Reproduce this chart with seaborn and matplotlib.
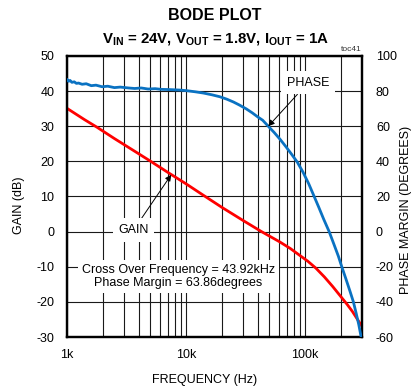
import numpy as np
import pandas as pd
import matplotlib
matplotlib.use("Agg")
import matplotlib.pyplot as plt
import seaborn as sns
from matplotlib.ticker import FixedLocator, NullFormatter, FixedFormatter

# ---- data ----
gain_freq = [1000, 1400, 1790, 2500, 3500, 5000, 7000, 10000, 13900, 20000, 30000,
             43000, 61000, 75000, 89500, 105000, 123000, 145000, 170000, 195000,
             226000, 250000, 275000, 300000]
gain_db = [35.1, 31.9, 29.7, 26.5, 23.4, 20.1, 16.9, 13.6, 10.4, 6.9, 3.2,
           0.0, -2.9, -4.8, -6.7, -8.4, -10.4, -12.9, -15.6, -18.1,
           -20.8, -22.8, -25.0, -27.0]

phase_freq = [1000, 1030, 1060, 1100, 1150, 1200, 1250, 1340, 1450, 1600, 1750,
              1970, 2200, 2500, 2800, 3290, 3700, 4200, 4800, 5500, 6200, 7200,
              8900, 10000, 12000, 14000, 16500, 19200, 22000, 25000, 28000, 32000,
              36000, 40000, 44000, 49000, 55000, 62000, 69000, 77000, 86000, 96000,
              107000, 119000, 130000, 143000, 159000, 175000, 190000, 202000,
              220000, 238000, 254000, 268000, 282000, 295000]
phase_deg = [86.7, 85.6, 86.1, 85.0, 85.3, 84.4, 84.6, 83.9, 84.2, 83.1, 83.4,
             82.5, 82.8, 82.0, 82.3, 81.8, 81.5, 81.8, 81.2, 81.4, 81.0, 80.9,
             80.6, 80.3, 79.6, 78.9, 77.9, 76.8, 75.4, 73.8, 72.1, 69.9,
             67.6, 65.3, 63.4, 60.0, 56.4, 52.3, 48.3, 44.0, 39.5, 33.8,
             27.3, 20.0, 13.9, 7.1, 0.0, -7.5, -14.0, -19.6,
             -27.0, -34.0, -40.0, -46.5, -53.0, -60.0]

gain_ticks = [-30, -20, -10, 0, 10, 20, 30, 40, 50]
phase_ticks = [-60, -40, -20, 0, 20, 40, 60, 80, 100]
x_major = [1000, 10000, 100000]
x_labels = ["1k", "10k", "100k"]
x_minor = [2000, 3000, 4000, 5000, 6000, 7000, 8000, 9000,
           20000, 30000, 40000, 50000, 60000, 70000, 80000, 90000,
           200000, 300000]

sns.set_theme(style="white")
plt.rcParams["font.family"] = ["Liberation Sans", "DejaVu Sans"]
plt.rcParams["text.color"] = "black"
plt.rcParams["mathtext.fontset"] = "custom"
plt.rcParams["mathtext.bf"] = "Liberation Sans:bold"
plt.rcParams["mathtext.rm"] = "Liberation Sans"
plt.rcParams["mathtext.it"] = "Liberation Sans:italic"

FS = 9
fig = plt.figure(figsize=(4.14, 3.91), dpi=100)
fig.patch.set_facecolor("white")
W, H = 414, 391
L, R, T, B = 67, 362, 56, 337
ax = fig.add_axes([L / W, 1 - B / H, (R - L) / W, (B - T) / H])
ax.set_facecolor("white")
ax.set_xscale("log")

sns.lineplot(x=gain_freq, y=gain_db, ax=ax, color="#ff0000", lw=2.0, zorder=5)
ax.set_xlim(1000, 300000)
ax.set_ylim(-30, 50)

ax.xaxis.set_major_locator(FixedLocator(x_major))
ax.xaxis.set_major_formatter(FixedFormatter(x_labels))
ax.xaxis.set_minor_locator(FixedLocator(x_minor))
ax.xaxis.set_minor_formatter(NullFormatter())
ax.set_yticks(gain_ticks)
ax.set_yticklabels([str(t) for t in gain_ticks])
ax.grid(True, which="both", axis="x", color="#1a1a1a", lw=0.8)
ax.grid(True, which="major", axis="y", color="#1a1a1a", lw=0.8)
ax.set_axisbelow(True)
ax.tick_params(axis="both", which="both", length=0, labelsize=FS, colors="black")
ax.tick_params(axis="y", pad=9)
ax.tick_params(axis="x", pad=9)
ax.set_xlabel("")
ax.set_ylabel("")

ax2 = ax.twinx()
sns.lineplot(x=phase_freq, y=phase_deg, ax=ax2, color="#0a72c2", lw=2.0, zorder=5)
ax2.set_ylim(-60, 100)
ax2.set_xlim(1000, 300000)
ax2.set_yticks(phase_ticks)
ax2.set_yticklabels([str(t) for t in phase_ticks])
ax2.tick_params(axis="y", length=0, labelsize=FS, pad=10, colors="black")
ax2.set_ylabel("")
ax2.grid(False)

for a in (ax, ax2):
    for s in a.spines.values():
        s.set_color("black")
        s.set_linewidth(1.6)
        s.set_visible(True)

# annotations
arrow = dict(arrowstyle="-|>", color="black", lw=0.7, mutation_scale=9,
             shrinkA=0, shrinkB=0)
ax2.annotate("PHASE", xy=(49000, 60.0), xycoords="data",
             xytext=(0.817, 0.905), textcoords="axes fraction",
             ha="center", va="center", fontsize=FS,
             bbox=dict(boxstyle="square,pad=0.45", fc="white", ec="none"),
             arrowprops=arrow, zorder=6)
ax2.annotate("GAIN", xy=(7500, 16.2), xycoords=ax.transData,
             xytext=(0.226, 0.381), textcoords="axes fraction",
             ha="center", va="center", fontsize=FS,
             bbox=dict(boxstyle="square,pad=0.45", fc="white", ec="none"),
             arrowprops=arrow, zorder=6)
ax2.text(0.377, 0.215, "Cross Over Frequency = 43.92kHz\nPhase Margin = 63.86degrees",
         transform=ax2.transAxes, ha="center", va="center", fontsize=FS,
         linespacing=1.2, bbox=dict(boxstyle="square,pad=0.3", fc="white", ec="none"),
         zorder=4)
ax2.text(1.0, 1.012, "toc41", transform=ax2.transAxes, ha="right", va="bottom",
         fontsize=6, color="#333333")

fig.text(215 / W, 1 - 16 / H, "BODE PLOT", ha="center", va="center",
         fontsize=11.5, fontweight="bold")
fig.text(215 / W, 1 - 39 / H,
         r"$\mathbf{V_{IN}}$ = 24V, $\mathbf{V_{OUT}}$ = 1.8V, $\mathbf{I_{OUT}}$ = 1A",
         ha="center", va="center", fontsize=10.8, fontweight="bold")
fig.text(19 / W, 1 - 205 / H, "GAIN (dB)", rotation=90, ha="center", va="center",
         fontsize=FS)
fig.text(406 / W, 1 - 210 / H, "PHASE MARGIN (DEGREES)", rotation=90, ha="center",
         va="center", fontsize=FS)
fig.text(205 / W, 1 - 380 / H, "FREQUENCY (Hz)", ha="center", va="center",
         fontsize=FS)

fig.savefig("out.png", dpi=100, facecolor="white")
